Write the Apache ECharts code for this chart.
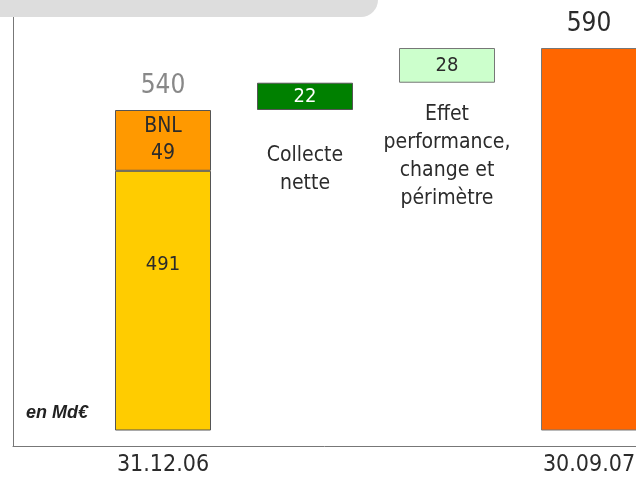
<!DOCTYPE html>
<html>
<head>
<meta charset="utf-8">
<script src="https://cdn.jsdelivr.net/npm/echarts@6/dist/echarts.min.js"></script>
<style>
  html, body { margin: 0; padding: 0; background: #fff; }
  #chart { width: 636px; height: 478px; }
</style>
</head>
<body>
<div id="chart"></div>
<script>
// Assets under management bridge, in Md€
const tickLabels = ['31.12.06', '', '', '30.09.07'];
const stepLabels = ['', 'Collecte\nnette', 'Effet\nperformance,\nchange et\npérimètre', ''];
const openingParts = [491, 49];          // existing perimeter, BNL
const openingPartNames = ['', 'BNL'];
const stepValues = [22, 28];             // net inflows, performance/fx/scope effect
const closingValue = 590;

const FONT = "'Liberation Sans Narrow', 'Arial Narrow', 'DejaVu Sans Condensed', sans-serif";

// Derived waterfall pieces
const openingTotal = openingParts[0] + openingParts[1];
const floatBase = [0];
let running = openingTotal;
stepValues.forEach(v => { floatBase.push(running); running += v; });
floatBase.push(0);

const dash = '-';
const existingData = [openingParts[0], dash, dash, dash];
const bnlData = [openingParts[1], dash, dash, dash];
const inflowData = [dash, stepValues[0], dash, dash];
const effectData = [dash, dash, stepValues[1], dash];
const closingData = [dash, dash, dash, closingValue];
const totalsData = [openingTotal, dash, dash, closingValue];

const stepLabelGap = [0, 32, 18, 0];

const chart = echarts.init(document.getElementById('chart'), null, { renderer: 'canvas' });

const border = { borderColor: '#555', borderWidth: 1 };
const TEXT = '#2b2b2b';

chart.setOption({
  animation: false,
  textStyle: { fontFamily: FONT },
  title: {
    text: 'en Md€',
    left: 21, top: 399,
    textStyle: { fontFamily: "'Liberation Sans', Arial, sans-serif", fontStyle: 'italic', fontWeight: 'bold', fontSize: 18, color: '#222' }
  },
  graphic: [{
    type: 'rect',
    shape: { x: 0, y: 0, width: 378, height: 17, r: [0, 0, 17, 0] },
    style: { fill: '#dddddd' },
    z: 10
  }],
  grid: [
    { left: 92, width: 568, top: 48, bottom: 48, outerBoundsMode: 'none', containLabel: false },
    { left: 13, right: 0, top: 17, bottom: 32, outerBoundsMode: 'none', containLabel: false }
  ],
  xAxis: [
    {
      type: 'category', gridIndex: 0, data: tickLabels,
      axisLine: { show: false }, axisTick: { show: false },
      axisLabel: { fontFamily: FONT, fontSize: 23, color: TEXT, margin: 24, interval: 0 }
    },
    {
      type: 'value', gridIndex: 1, min: 0, max: 1,
      axisLine: { show: true, onZero: false, lineStyle: { color: '#777', width: 1 } },
      axisTick: { show: false }, axisLabel: { show: false }, splitLine: { show: false }
    }
  ],
  yAxis: [
    {
      type: 'value', gridIndex: 0, min: 282, max: 590, show: false,
      splitLine: { show: false }
    },
    {
      type: 'value', gridIndex: 1, min: 0, max: 1,
      axisLine: { show: true, onZero: false, lineStyle: { color: '#777', width: 1 } },
      axisTick: { show: false }, axisLabel: { show: false }, splitLine: { show: false }
    }
  ],
  series: [
    {
      name: 'base', type: 'bar', stack: 'wf', barWidth: 96, clip: true,
      itemStyle: { color: 'transparent' },
      data: floatBase.map((v, i) => ({
        value: v,
        label: {
          show: stepLabels[i] !== '',
          position: 'insideTop',
          distance: stepLabelGap[i],
          formatter: stepLabels[i],
          fontFamily: FONT, fontSize: 21, lineHeight: 28, color: TEXT
        }
      })),
      silent: true
    },
    {
      name: 'existant', type: 'bar', stack: 'wf', barWidth: 96, clip: true,
      itemStyle: Object.assign({ color: '#ffcc00' }, border),
      label: { show: true, position: 'insideTop', distance: 84, fontFamily: FONT, fontSize: 20, color: TEXT },
      data: existingData
    },
    {
      name: 'BNL', type: 'bar', stack: 'wf', barWidth: 96, clip: true,
      itemStyle: Object.assign({ color: '#ff9900' }, border),
      label: {
        show: true, position: 'inside', fontFamily: FONT, fontSize: 21, lineHeight: 27, color: TEXT,
        formatter: p => openingPartNames[1] + '\n' + p.value
      },
      data: bnlData
    },
    {
      name: 'Collecte nette', type: 'bar', stack: 'wf', barWidth: 96, clip: true,
      itemStyle: Object.assign({ color: '#008000' }, border),
      label: { show: true, position: 'inside', fontFamily: FONT, fontSize: 20, color: '#fff' },
      data: inflowData
    },
    {
      name: 'Effet', type: 'bar', stack: 'wf', barWidth: 96, clip: true,
      itemStyle: { color: '#ccffcc', borderColor: '#777', borderWidth: 1 },
      label: { show: true, position: 'inside', fontFamily: FONT, fontSize: 20, color: TEXT },
      data: effectData
    },
    {
      name: 'clôture', type: 'bar', stack: 'wf', barWidth: 96, clip: true,
      itemStyle: { color: '#ff6600', borderColor: '#777', borderWidth: 1 },
      data: closingData
    },
    {
      name: 'totaux', type: 'line', xAxisIndex: 0, yAxisIndex: 0, clip: false,
      symbol: 'circle', symbolSize: 2, showSymbol: true,
      itemStyle: { color: 'rgba(0,0,0,0)', borderWidth: 0 },
      lineStyle: { width: 0, color: 'rgba(0,0,0,0)' }, connectNulls: false,
      data: totalsData.map((v, i) => ({
        value: v,
        label: {
          show: v !== dash, position: 'top', distance: 10,
          fontFamily: FONT, fontSize: 26,
          color: i === 0 ? '#888' : TEXT
        }
      })),
      z: 5
    }
  ]
});
</script>
</body>
</html>
